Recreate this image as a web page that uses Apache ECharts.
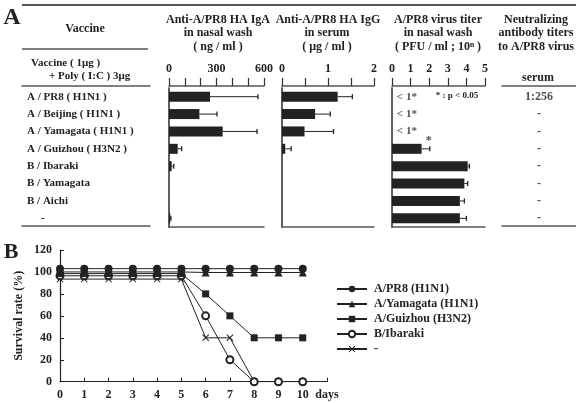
<!DOCTYPE html>
<html><head><meta charset="utf-8">
<script src="https://cdn.jsdelivr.net/npm/echarts@6/dist/echarts.min.js"></script>
<style>html,body{margin:0;padding:0;background:#fff}#c{width:576px;height:403px}</style>
</head><body><div id="c"></div>
<script>
// ---------- data (panel A) ----------
var vaccines = ['A / PR8 ( H1N1 )', 'A / Beijing ( H1N1 )', 'A / Yamagata ( H1N1 )', 'A / Guizhou ( H3N2 )', 'B / Ibaraki', 'B / Yamagata', 'B / Aichi', '-'];
var igaMean = [259, 192, 339, 55, 17, null, null, 8];
var igaErr  = [562, 303, 556, 80, 30, null, null, 12];
var iggMean = [1.21, 0.72, 0.49, 0.07, null, null, null, null];
var iggErr  = [1.53, 1.05, 1.12, 0.20, null, null, null, null];
var titerMean = [null, null, null, 1.59, 4.07, 3.89, 3.65, 3.65];
var titerErr  = [null, null, null, 2.03, 4.16, 4.07, 3.89, 4.00];
var titerNotes = ['< 1*', '< 1*', '< 1*', '*', '', '', '', ''];
var serumTiters = ['1:256', '-', '-', '-', '-', '-', '-', '-'];
var igaLabels = [0, 300, 600];
var iggLabels = [0, 1, 2];
// ---------- data (panel B) ----------
var days = [0, 1, 2, 3, 4, 5, 6, 7, 8, 9, 10];
var survNames = ['A/PR8 (H1N1)', 'A/Yamagata (H1N1)', 'A/Guizhou (H3N2)', 'B/Ibaraki', '-'];
var survPR8      = [103, 103, 103, 103, 103, 103, 103, 103, 103, 103, 103];
var survYamagata = [100, 100, 100, 100, 100, 100, 99.5, 99.5, 99.5, 99.5, 99.5];
var survGuizhou  = [98.5, 98.5, 98.5, 98.5, 98.5, 98.5, 80, 60, 40, 40, 40];
var survIbaraki  = [96.5, 96.5, 96.5, 96.5, 96.5, 96.5, 60, 20, 0, 0, 0];
var survNone     = [93.5, 93.5, 93.5, 93.5, 93.5, 93.5, 40, 40, 0, 0, 0];

var FONT = 'Liberation Serif';
var INK = '#222';
var BOX = '#555';
var chart = echarts.init(document.getElementById('c'));

function pairs(arr) { return days.map(function (d, i) { return [d, arr[i]]; }); }
function errData(mean, err) {
  var out = [];
  vaccines.forEach(function (v, i) { if (err[i] != null) out.push([mean[i] || 0, v, err[i]]); });
  return out;
}
function errItem(params, api) {
  var y = api.value(1);
  var a = api.coord([api.value(0), y]);
  var b = api.coord([api.value(2), y]);
  return { type: 'group', children: [
    { type: 'line', shape: { x1: a[0], y1: a[1], x2: b[0], y2: b[1] }, style: { stroke: INK, lineWidth: 1 } },
    { type: 'line', shape: { x1: b[0], y1: b[1] - 2.5, x2: b[0], y2: b[1] + 2.5 }, style: { stroke: INK, lineWidth: 1.3 } }
  ] };
}
var tickFont = { fontFamily: FONT, fontWeight: 'bold', fontSize: 12, color: INK };
function topAxis(gi, max, interval, fmt) {
  return { gridIndex: gi, type: 'value', position: 'top', offset: 2, min: 0, max: max, interval: interval,
    axisLine: { show: true, lineStyle: { color: BOX, width: 1.5 } },
    axisTick: { show: true, length: 8, lineStyle: { color: '#333', width: 1.2 } },
    axisLabel: Object.assign({ margin: 11, formatter: fmt }, tickFont),
    splitLine: { show: false } };
}
function lineOnlyX(gi, pos, off) {
  return { gridIndex: gi, type: 'value', position: pos, offset: off || 0, min: 0, max: 1,
    axisLine: { show: true, lineStyle: { color: BOX, width: 1.5 } }, axisTick: { show: false },
    axisLabel: { show: false }, splitLine: { show: false } };
}
function boxY(gi, pos, showLine) {
  return { gridIndex: gi, type: 'category', position: pos, data: vaccines, inverse: true,
    axisLine: { show: showLine, lineStyle: { color: BOX, width: 1.5 } }, axisTick: { show: false },
    axisLabel: { show: false }, splitLine: { show: false } };
}
function txt(x, y, s, size, align) {
  return { type: 'text', x: x, y: y, style: { text: s, fontFamily: FONT, fontWeight: 'bold', fontSize: size || 12,
    fill: INK, align: align || 'center', verticalAlign: 'middle' } };
}

var option = {
  backgroundColor: '#fff',
  animation: false,
  grid: [
    { left: 22, width: 128, top: 88, height: 139 },
    { left: 169, width: 95, top: 88, height: 139 },
    { left: 282, width: 92, top: 88, height: 139 },
    { left: 392, width: 93, top: 88, height: 139 },
    { left: 502, width: 74, top: 88, height: 139 },
    { left: 60, width: 267, top: 250, height: 131.7 }
  ],
  xAxis: [
    lineOnlyX(0, 'top', 2), lineOnlyX(0, 'bottom', -1),
    topAxis(1, 600, 100, function (v) { return igaLabels.indexOf(v) >= 0 ? v : ''; }), lineOnlyX(1, 'bottom'),
    topAxis(2, 2, 0.5, function (v) { return iggLabels.indexOf(v) >= 0 ? v : ''; }), lineOnlyX(2, 'bottom'),
    topAxis(3, 5, 1, function (v) { return v; }), lineOnlyX(3, 'bottom'),
    lineOnlyX(4, 'top', 2), lineOnlyX(4, 'bottom', -1),
    { gridIndex: 5, type: 'value', min: 0, max: 11, interval: 1,
      axisLine: { show: true, lineStyle: { color: INK, width: 1.2 } },
      axisTick: { show: true, inside: true, length: 4, lineStyle: { color: INK } },
      axisLabel: Object.assign({ margin: 7, formatter: function (v) { return v === 11 ? 'days' : v; } }, tickFont),
      splitLine: { show: false } }
  ],
  yAxis: [
    { gridIndex: 0, type: 'category', data: vaccines, inverse: true,
      axisLine: { show: false }, axisTick: { show: false }, splitLine: { show: false },
      axisLabel: { inside: true, margin: 5, align: 'left', fontFamily: FONT, fontWeight: 'bold', fontSize: 11, color: INK,
        formatter: function (v) { return v === '-' ? '{d|-}' : v; },
        rich: { d: { padding: [0, 0, 0, 14], fontFamily: FONT, fontWeight: 'bold', fontSize: 11, color: INK } } } },
    boxY(1, 'left', true), boxY(1, 'right', true),
    boxY(2, 'left', true), boxY(2, 'right', true),
    boxY(3, 'left', true), boxY(3, 'right', true),
    boxY(4, 'left', false),
    { gridIndex: 5, type: 'value', min: 0, max: 120, interval: 20,
      name: 'Survival rate (%)', nameLocation: 'middle', nameRotate: 90, nameGap: 35,
      nameTextStyle: { fontFamily: FONT, fontWeight: 'bold', fontSize: 12, color: INK },
      axisLine: { show: true, lineStyle: { color: INK, width: 1.2 } },
      axisTick: { show: true, inside: true, length: 4, lineStyle: { color: INK } },
      axisLabel: Object.assign({ margin: 8 }, tickFont),
      splitLine: { show: false } }
  ],
  legend: {
    orient: 'vertical', left: 336, top: 283, padding: 0, itemWidth: 30, itemHeight: 8, itemGap: 3,
    textStyle: { fontFamily: FONT, fontWeight: 'bold', fontSize: 12, color: INK, padding: [0, 0, 0, 2] },
    data: survNames
  },
  series: [
    { type: 'bar', xAxisIndex: 2, yAxisIndex: 1, data: igaMean, barWidth: 10, itemStyle: { color: INK } },
    { type: 'custom', xAxisIndex: 2, yAxisIndex: 1, renderItem: errItem, data: errData(igaMean, igaErr), encode: { x: [0, 2], y: 1 } },
    { type: 'bar', xAxisIndex: 4, yAxisIndex: 3, data: iggMean, barWidth: 10, itemStyle: { color: INK } },
    { type: 'custom', xAxisIndex: 4, yAxisIndex: 3, renderItem: errItem, data: errData(iggMean, iggErr), encode: { x: [0, 2], y: 1 } },
    { type: 'bar', xAxisIndex: 6, yAxisIndex: 5, data: titerMean, barWidth: 10, itemStyle: { color: INK } },
    { type: 'custom', xAxisIndex: 6, yAxisIndex: 5, renderItem: errItem, data: errData(titerMean, titerErr), encode: { x: [0, 2], y: 1 } },
    { type: 'scatter', xAxisIndex: 6, yAxisIndex: 5, symbolSize: 0, silent: true,
      data: vaccines.map(function (v, i) {
        if (!titerNotes[i]) return null;
        var isStar = titerNotes[i] === '*';
        return { value: [isStar ? titerErr[i] - 0.05 : 0.8, v], label: { offset: isStar ? [0, -8] : [0, 0], fontSize: isStar ? 12 : 11 }, note: titerNotes[i] };
      }).filter(function (d) { return d; }),
      label: { show: true, position: 'inside', fontFamily: FONT, fontWeight: 'bold', color: INK,
        formatter: function (p) { return p.data.note; } } },
    { type: 'scatter', xAxisIndex: 8, yAxisIndex: 7, symbolSize: 0, silent: true,
      data: vaccines.map(function (v, i) { return { value: [0.5, v], t: serumTiters[i] }; }),
      label: { show: true, position: 'inside', fontFamily: FONT, fontWeight: 'bold', fontSize: 12, color: INK,
        formatter: function (p) { return p.data.t; } } },
    // panel B
    { type: 'line', name: survNames[4], xAxisIndex: 10, yAxisIndex: 8, data: pairs(survNone), z: 3,
      symbol: 'path://M0,1L1,0L5,4L9,0L10,1L6,5L10,9L9,10L5,6L1,10L0,9L4,5Z', symbolSize: 7,
      lineStyle: { color: INK, width: 1 }, itemStyle: { color: INK } },
    { type: 'line', name: survNames[3], xAxisIndex: 10, yAxisIndex: 8, data: pairs(survIbaraki), z: 4,
      symbol: 'emptyCircle', symbolSize: 7, lineStyle: { color: INK, width: 1 }, itemStyle: { color: INK, borderColor: INK, borderWidth: 1 } },
    { type: 'line', name: survNames[2], xAxisIndex: 10, yAxisIndex: 8, data: pairs(survGuizhou), z: 5,
      symbol: 'rect', symbolSize: 7, lineStyle: { color: INK, width: 1 }, itemStyle: { color: INK } },
    { type: 'line', name: survNames[1], xAxisIndex: 10, yAxisIndex: 8, data: pairs(survYamagata), z: 6,
      symbol: 'triangle', symbolSize: 8, lineStyle: { color: INK, width: 1 }, itemStyle: { color: INK } },
    { type: 'line', name: survNames[0], xAxisIndex: 10, yAxisIndex: 8, data: pairs(survPR8), z: 7,
      symbol: 'circle', symbolSize: 8, lineStyle: { color: INK, width: 1 }, itemStyle: { color: INK } }
  ],
  graphic: [
    txt(12, 18, 'A', 24), txt(11, 252, 'B', 22),
    { type: 'line', shape: { x1: 22, y1: 5, x2: 576, y2: 5 }, style: { stroke: BOX, lineWidth: 2 } },
    { type: 'line', shape: { x1: 22, y1: 49, x2: 148, y2: 49 }, style: { stroke: BOX, lineWidth: 1.5 } },
    txt(85, 29, 'Vaccine', 12),
    txt(31, 63, 'Vaccine ( 1μg )', 11, 'left'),
    txt(49, 76, '+ Poly ( I:C ) 3μg', 11, 'left'),
    txt(218, 20, 'Anti-A/PR8 HA IgA', 12), txt(218, 33, 'in nasal wash', 12), txt(218, 47, '( ng / ml )', 12),
    txt(328, 20, 'Anti-A/PR8 HA IgG', 12), txt(327, 33, 'in serum', 12), txt(327, 47, '( μg / ml )', 12),
    txt(438, 20, 'A/PR8 virus titer', 12), txt(438, 33, 'in nasal wash', 12), txt(438, 47, '( PFU / ml ; 10ⁿ )', 12),
    txt(536, 20, 'Neutralizing', 12), txt(536, 33, 'antibody titers', 12), txt(536, 47, 'to A/PR8 virus', 12),
    txt(538, 78, 'serum', 12),
    txt(457, 96, '* : p < 0.05', 9)
  ]
};
chart.setOption(option);
</script>
</body></html>
